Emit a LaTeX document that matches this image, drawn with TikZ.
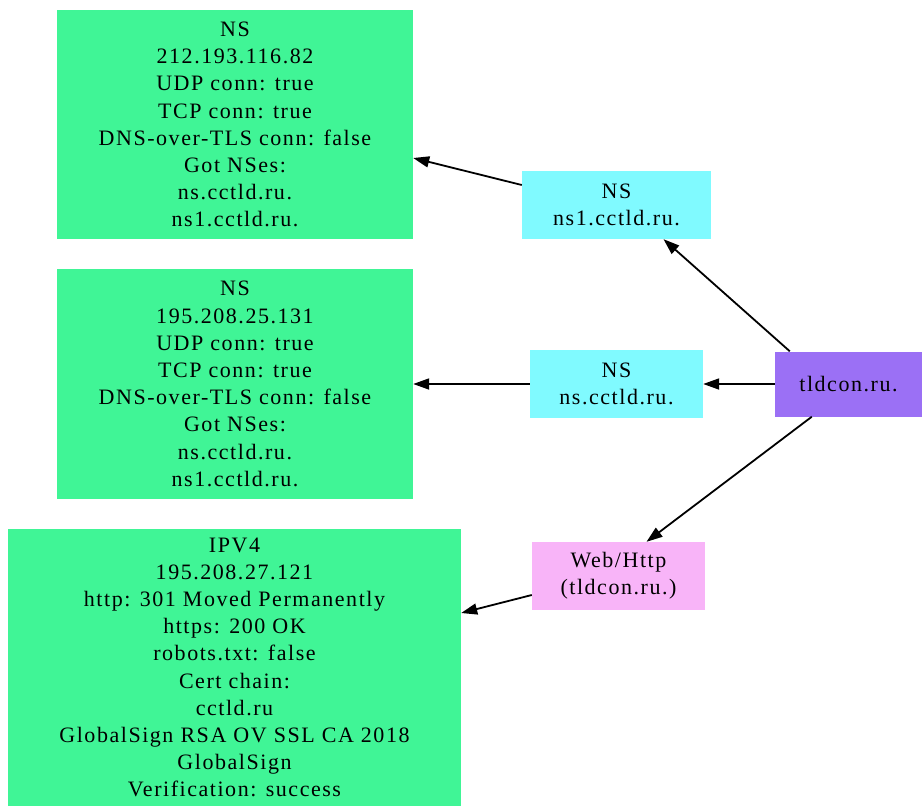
\documentclass[tikz,border=0pt]{standalone}
\usepackage{fontspec}
\setmainfont{Liberation Serif}
\newfontfamily\gvfont[LetterSpace=7]{Liberation Serif}
\usepackage{xcolor}
\usetikzlibrary{arrows.meta}

\definecolor{hostgreen}{RGB}{64,245,150}
\definecolor{nscyan}{RGB}{128,250,255}
\definecolor{domainpurple}{RGB}{155,112,245}
\definecolor{webpink}{RGB}{248,180,248}

\begin{document}
\begin{tikzpicture}[
    x=1pt, y=-1pt,
    box/.style={inner sep=0pt, align=center, text=black,
                font=\gvfont\fontsize{22}{27.2}\selectfont},
    host/.style={box, fill=hostgreen},
    nsbox/.style={box, fill=nscyan, minimum height=68pt},
    arrow/.style={-{Triangle[length=16pt,width=11pt]}, line width=1.8pt}
]
\useasboundingbox (0,0) rectangle (922,806);

% results
\node[host, minimum width=356pt, minimum height=229pt] (hostA) at (235,124.5)
  {NS\\212.193.116.82\\UDP conn: true\\TCP conn: true\\DNS-over-TLS conn: false\\Got NSes:\\ns.cctld.ru.\\ns1.cctld.ru.};
\node[host, minimum width=356pt, minimum height=230pt] (hostB) at (235,384)
  {NS\\195.208.25.131\\UDP conn: true\\TCP conn: true\\DNS-over-TLS conn: false\\Got NSes:\\ns.cctld.ru.\\ns1.cctld.ru.};
\node[host, minimum width=453pt, minimum height=277pt] (ipv4) at (234.5,667.5)
  {IPV4\\195.208.27.121\\http: 301 Moved Permanently\\https: 200 OK\\robots.txt: false\\Cert chain:\\cctld.ru\\GlobalSign RSA OV SSL CA 2018\\GlobalSign\\Verification: success};

% checks
\node[nsbox, minimum width=189pt] (nsone) at (616.5,205) {NS\\ns1.cctld.ru.};
\node[nsbox, minimum width=173pt] (nsmain) at (616.5,384) {NS\\ns.cctld.ru.};
\node[box, fill=webpink, minimum width=173pt, minimum height=68pt] (web) at (618.5,576) {Web/Http\\(tldcon.ru.)};

% domain
\node[box, fill=domainpurple, minimum width=147pt, minimum height=65pt] (domain) at (848.5,384) {tldcon.ru.};

\draw[arrow] ([xshift=15pt]domain.north west) -- ([xshift=47pt]nsone.south);
\draw[arrow] (domain.west) -- (nsmain.east);
\draw[arrow] ([xshift=37pt]domain.south west) -- ([xshift=28pt]web.north);
\draw[arrow] ([yshift=20pt]nsone.west) -- ([yshift=-33.5pt]hostA.east);
\draw[arrow] (nsmain.west) -- (hostB.east);
\draw[arrow] ([yshift=-19pt]web.west) -- ([yshift=54.5pt]ipv4.east);
\end{tikzpicture}
\end{document}
